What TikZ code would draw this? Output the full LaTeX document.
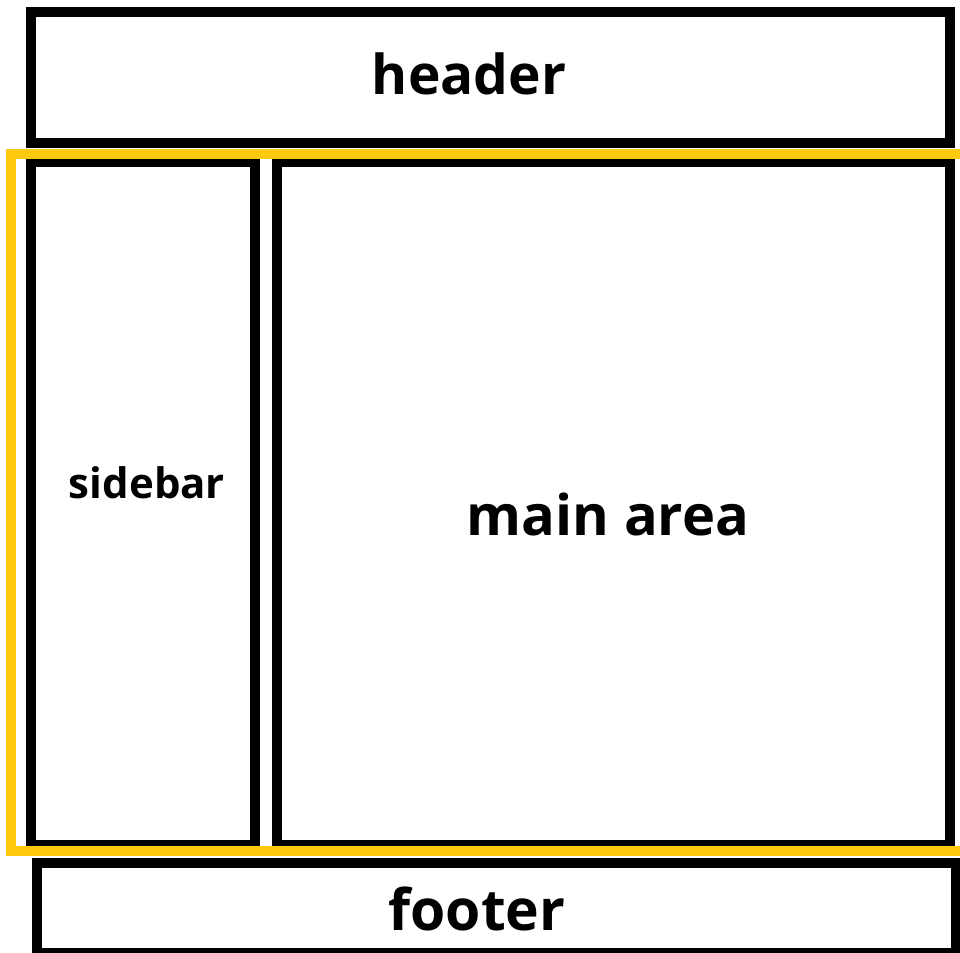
\documentclass[tikz,border=0pt]{standalone}
\usepackage{fontspec}
\setmainfont{Open Sans}
\definecolor{gold}{HTML}{FFC90E}
\begin{document}
\begin{tikzpicture}[x=1pt,y=-1pt,
  box/.style={draw=black,line width=10pt,inner sep=0pt,outer sep=0pt},
  goldbox/.style={draw=gold,line width=10pt,inner sep=0pt,outer sep=0pt},
  lbl/.style={font=\bfseries,inner sep=0pt,anchor=base}]
\useasboundingbox (0,0) rectangle (960,952);
\node[box,minimum width=919pt,minimum height=131pt] (header) at (490.5,77.5) {};
\node[box,minimum width=224pt,minimum height=683pt] (sidebar) at (143,503.5) {};
\node[box,minimum width=673pt,minimum height=683pt] (main) at (613.5,503.5) {};
\node[box,minimum width=919pt,minimum height=90pt] (footer) at (496.5,908) {};
\node[goldbox,minimum width=954pt,minimum height=697pt] (content) at (488,502.5) {};
\node[lbl,font=\bfseries\fontsize{55}{60}\selectfont] (th) at (469,95) {header};
\node[lbl,font=\bfseries\fontsize{42}{44}\selectfont] (ts) at (147,498) {sidebar};
\node[lbl,font=\bfseries\fontsize{56}{60}\selectfont] (tm) at (608,535) {main area};
\node[lbl,font=\bfseries\fontsize{57}{60}\selectfont] (tf) at (477,930) {footer};
\end{tikzpicture}
\end{document}
